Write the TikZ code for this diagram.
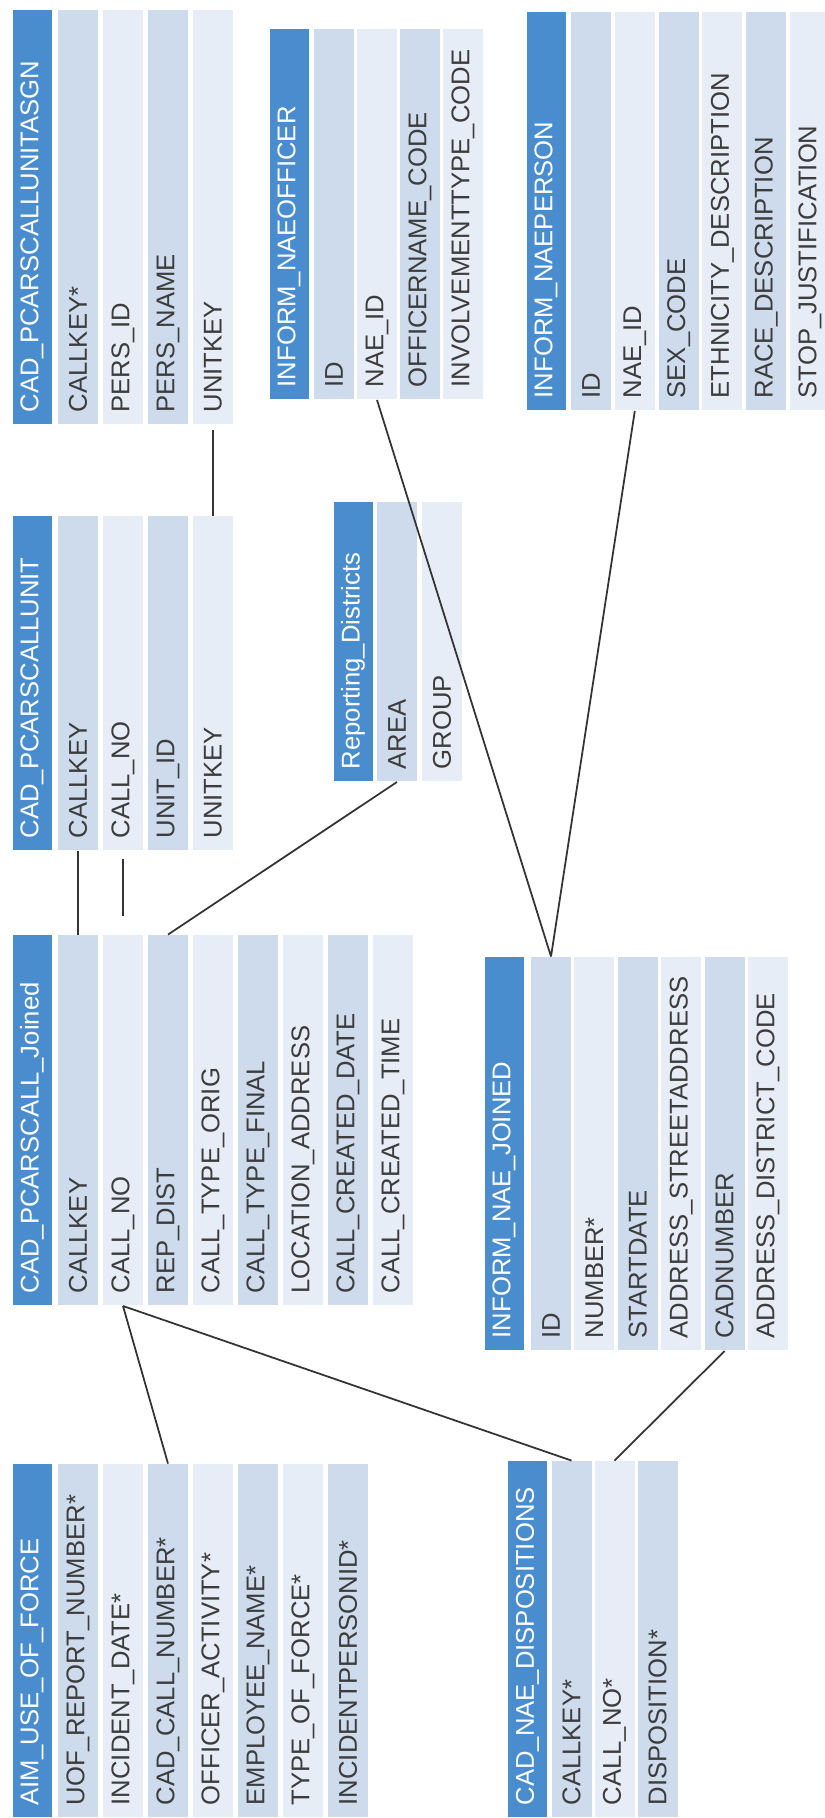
\documentclass[tikz,border=0pt]{standalone}
\usepackage{fontspec}
\setmainfont{Liberation Sans}
\uchyph=0
\hyphenpenalty=10000
\usetikzlibrary{positioning}
\definecolor{hdrblue}{RGB}{74,141,206}
\definecolor{rowdark}{RGB}{206,219,236}
\definecolor{rowlight}{RGB}{231,237,246}
\definecolor{txtgray}{RGB}{60,60,60}
\tikzset{
  cell/.style={anchor=west, inner xsep=1.2mm, inner ysep=0pt, minimum height=4mm, align=left, font=\fontsize{7.3}{8}\selectfont},
  hdr/.style={cell, fill=hdrblue, text=white, minimum height=3.9mm},
  rowa/.style={cell, fill=rowdark, text=txtgray},
  rowb/.style={cell, fill=rowlight, text=txtgray},
  link/.style={draw=black!80, line width=0.5pt}
}
\begin{document}
\begin{tikzpicture}[x=0.1mm, y=0.1mm, rotate=90, transform shape]
\useasboundingbox (0,0) rectangle (1818,-824);

% AIM_USE_OF_FORCE
\node[hdr, text width=32.9mm] (aim) at (0,-32) {AIM\_USE\_OF\_FORCE};
\foreach \lbl/\sty [count=\i] in {UOF\_REPORT\_NUMBER*/rowa, INCIDENT\_DATE*/rowb, CAD\_CALL\_NUMBER*/rowa, OFFICER\_ACTIVITY*/rowb, EMPLOYEE\_NAME*/rowa, TYPE\_OF\_FORCE*/rowb, INCIDENTPERSONID*/rowa}
  \node[\sty, text width=32.9mm] (aim\i) at (0,{-33-45*\i}) {\lbl};

% CAD_PCARSCALL_Joined
\node[hdr, text width=34.6mm] (jn) at (512,-32) {CAD\_PCARSCALL\_Joined};
\foreach \lbl/\sty [count=\i] in {CALLKEY/rowa, CALL\_NO/rowb, REP\_DIST/rowa, CALL\_TYPE\_ORIG/rowb, CALL\_TYPE\_FINAL/rowa, LOCATION\_ADDRESS/rowb, CALL\_CREATED\_DATE/rowa, CALL\_CREATED\_TIME/rowb}
  \node[\sty, text width=34.6mm] (jn\i) at (512,{-33-45*\i}) {\lbl};

% CAD_PCARSCALLUNIT
\node[hdr, text width=31mm] (un) at (967,-32) {CAD\_PCARSCALLUNIT};
\foreach \lbl/\sty [count=\i] in {CALLKEY/rowa, CALL\_NO/rowb, UNIT\_ID/rowa, UNITKEY/rowb}
  \node[\sty, text width=31mm] (un\i) at (967,{-33-45*\i}) {\lbl};

% CAD_PCARSCALLUNITASGN
\node[hdr, text width=39mm] (asg) at (1393,-32) {CAD\_PCARSCALLUNITASGN};
\foreach \lbl/\sty [count=\i] in {CALLKEY*/rowa, PERS\_ID/rowb, PERS\_NAME/rowa, UNITKEY/rowb}
  \node[\sty, text width=39mm] (asg\i) at (1393,{-33-45*\i}) {\lbl};

% Reporting_Districts
\node[hdr, text width=25.5mm] (rd) at (1036,-353) {Reporting\_Districts};
\foreach \lbl/\sty [count=\i] in {AREA/rowa, GROUP/rowb}
  \node[\sty, text width=25.5mm] (rd\i) at (1036,{-352-45*\i}) {\lbl};

% INFORM_NAEOFFICER
\node[hdr, text width=34.6mm] (of) at (1418,-289) {INFORM\_NAEOFFICER};
\foreach \lbl/\sty [count=\i] in {ID/rowa, NAE\_ID/rowb, OFFICERNAME\_CODE/rowa, INVOLVEMENTTYPE\_CODE/rowb}
  \node[\sty, text width=34.6mm] (of\i) at (1418,{-291-43*\i}) {\lbl};

% INFORM_NAEPERSON
\node[hdr, text width=37.4mm] (ps) at (1407,-546) {INFORM\_NAEPERSON};
\foreach \lbl/\sty [count=\i] in {ID/rowa, NAE\_ID/rowb, SEX\_CODE/rowa, ETHNICITY\_DESCRIPTION/rowb, RACE\_DESCRIPTION/rowa, STOP\_JUSTIFICATION/rowb}
  \node[\sty, text width=37.4mm] (ps\i) at (1407,{-547.2-43.8*\i}) {\lbl};

% INFORM_NAE_JOINED
\node[hdr, text width=36.9mm] (nj) at (467,-504) {INFORM\_NAE\_JOINED};
\foreach \lbl/\sty [count=\i] in {ID/rowa, NUMBER*/rowb, STARTDATE/rowa, ADDRESS\_STREETADDRESS/rowb, CADNUMBER/rowa, ADDRESS\_DISTRICT\_CODE/rowb}
  \node[\sty, text width=36.9mm] (nj\i) at (467,{-507.6-43.4*\i}) {\lbl};

% CAD_NAE_DISPOSITIONS
\node[hdr, text width=33.2mm] (dis) at (0,-527.5) {CAD\_NAE\_DISPOSITIONS};
\foreach \lbl/\sty [count=\i] in {CALLKEY*/rowa, CALL\_NO*/rowb, DISPOSITION*/rowa}
  \node[\sty, text width=33.2mm] (dis\i) at (0,{-528.5-43*\i}) {\lbl};

% joins
\draw[link] (jn2.west) -- (aim3.east)
  (jn2.west) -- (dis1.east)
  (jn3.east) -- (rd1.west)
  (of2.west) -- (nj1.east)
  (ps2.west) -- (nj1.east)
  (nj5.west) -- (dis2.east);
\draw[link, shorten >=0.5mm] (un4.east) -- (asg4.west);
\draw[link, shorten <=1.9mm, shorten >=0.8mm] (jn1.east) -- (un1.west)
  (jn2.east) -- (un2.west);
\end{tikzpicture}
\end{document}
